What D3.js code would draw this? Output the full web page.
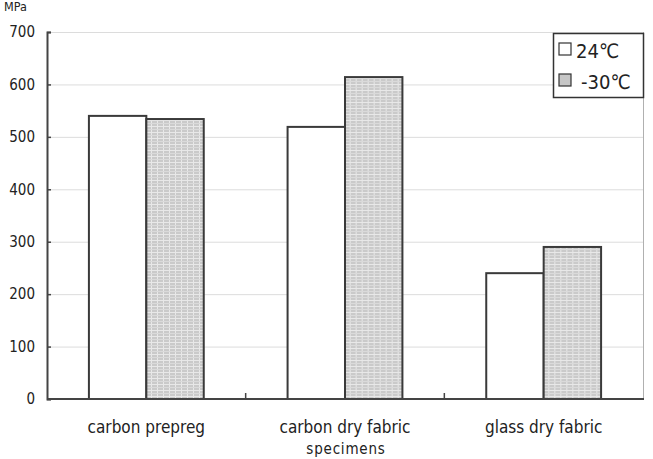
<!DOCTYPE html>
<html>
<head>
<meta charset="utf-8">
<script src="https://cdn.jsdelivr.net/npm/d3@7"></script>
<style>
    body { margin: 0; background: #fff; }
    text { font-family: "DejaVu Sans Condensed", "DejaVu Sans", sans-serif; font-stretch: condensed; fill: #222; }
</style>
</head>
<body>
<div id="chart"></div>
<script>
    'use strict';

    // chart data
    var categories = ['carbon prepreg', 'carbon dry fabric', 'glass dry fabric'];
    var seriesNames = ['24℃', '-30℃'];
    var warmValues = [540, 519, 240];
    var coldValues = [534, 614, 290];
    var yTicks = [0, 100, 200, 300, 400, 500, 600, 700];

    var width = 653, height = 459;
    var margin = {top: 32, right: 10, bottom: 60, left: 47};
    var fontFam = '"DejaVu Sans Condensed", "DejaVu Sans", sans-serif';

    var svg = d3.select('#chart')
        .append('svg')
        .attr('width', width)
        .attr('height', height);

    // hatch pattern for the -30 series
    var defs = svg.append('defs');
    var pat = defs.append('pattern')
        .attr('id', 'hatch')
        .attr('patternUnits', 'userSpaceOnUse')
        .attr('width', 6)
        .attr('height', 6);
    pat.append('rect').attr('width', 6).attr('height', 6).attr('fill', '#cacaca');
    pat.append('line').attr('x1', 0).attr('y1', 0.5).attr('x2', 6).attr('y2', 0.5)
        .attr('stroke', '#e8e8e8').attr('stroke-width', 1);
    pat.append('line').attr('x1', 2.5).attr('y1', 0).attr('x2', 2.5).attr('y2', 6)
        .attr('stroke', '#e8e8e8').attr('stroke-width', 1);
    pat.append('line').attr('x1', 0).attr('y1', 3.5).attr('x2', 6).attr('y2', 3.5)
        .attr('stroke', '#dadada').attr('stroke-width', 1);

    var x0 = width - margin.right;
    var y0 = height - margin.bottom;

    var x = d3.scaleBand()
        .domain(categories)
        .range([margin.left, x0]);

    var xInner = d3.scaleBand()
        .domain(seriesNames)
        .range([0, x.bandwidth()])
        .paddingInner(0)
        .paddingOuter(0.73);

    var y = d3.scaleLinear()
        .domain([0, 700])
        .range([y0, margin.top]);

    var g = svg.append('g');

    // gridlines
    g.selectAll('line.grid')
        .data(yTicks.slice(1))
        .enter()
        .append('line')
        .attr('class', 'grid')
        .attr('x1', margin.left)
        .attr('x2', x0)
        .attr('y1', function(d) { return y(d) + 0.5; })
        .attr('y2', function(d) { return y(d) + 0.5; })
        .attr('stroke', '#dcdcdc')
        .attr('stroke-width', 1);

    // right border
    g.append('line')
        .attr('x1', x0 + 0.5).attr('x2', x0 + 0.5)
        .attr('y1', margin.top).attr('y2', y0)
        .attr('stroke', '#b0b0b0');

    // bars
    var rows = categories.map(function(c, i) {
        return [
            {cat: c, s: seriesNames[0], v: warmValues[i]},
            {cat: c, s: seriesNames[1], v: coldValues[i]}
        ];
    });

    var groups = g.selectAll('g.cat')
        .data(rows)
        .enter()
        .append('g')
        .attr('class', 'cat')
        .attr('transform', function(d) { return 'translate(' + x(d[0].cat) + ',0)'; });

    groups.selectAll('rect')
        .data(function(d) { return d; })
        .enter()
        .append('rect')
        .attr('x', function(d) { return xInner(d.s); })
        .attr('y', function(d) { return y(d.v); })
        .attr('width', xInner.bandwidth())
        .attr('height', function(d) { return y0 - y(d.v); })
        .attr('fill', function(d, i) { return i === 0 ? '#fff' : 'url(#hatch)'; })
        .attr('stroke', '#3a3a3a')
        .attr('stroke-width', 2);

    // y axis
    var yAxis = d3.axisLeft(y)
        .tickValues(yTicks)
        .tickSize(-4)
        .tickPadding(12)
        .tickFormat(d3.format('d'));

    var ya = svg.append('g')
        .attr('transform', 'translate(' + margin.left + ',0)')
        .call(yAxis);
    ya.select('.domain').attr('stroke', '#444').attr('stroke-width', 2);
    ya.selectAll('.tick line').attr('stroke', '#444').attr('stroke-width', 1.5);
    ya.selectAll('.tick text')
        .attr('font-size', 15)
        .attr('font-family', fontFam)
        .attr('fill', '#222');

    // x axis
    var xa = svg.append('g')
        .attr('transform', 'translate(0,' + y0 + ')');
    xa.append('line')
        .attr('x1', margin.left).attr('x2', x0 + 1)
        .attr('y1', 0).attr('y2', 0)
        .attr('stroke', '#444').attr('stroke-width', 2);
    xa.selectAll('line.sep')
        .data(categories.slice(1))
        .enter()
        .append('line')
        .attr('class', 'sep')
        .attr('x1', function(d) { return x(d); })
        .attr('x2', function(d) { return x(d); })
        .attr('y1', 0).attr('y2', -6)
        .attr('stroke', '#444').attr('stroke-width', 1.5);
    xa.selectAll('text.cat')
        .data(categories)
        .enter()
        .append('text')
        .attr('class', 'cat')
        .attr('x', function(d) { return x(d) + x.bandwidth() / 2; })
        .attr('y', 34)
        .attr('text-anchor', 'middle')
        .attr('font-size', 17)
        .text(function(d) { return d; });

    svg.append('text')
        .attr('x', 346)
        .attr('y', 454)
        .attr('text-anchor', 'middle')
        .attr('font-size', 15)
        .attr('letter-spacing', 0.8)
        .attr('fill', '#333')
        .text('specimens');

    svg.append('text')
        .attr('x', 4)
        .attr('y', 11)
        .attr('font-size', 12.5)
        .text('MPa');

    // legend
    var lg = svg.append('g').attr('transform', 'translate(553,33)');
    lg.append('rect')
        .attr('x', 0.5).attr('y', 0.5)
        .attr('width', 90).attr('height', 64)
        .attr('fill', '#fff')
        .attr('stroke', '#333')
        .attr('stroke-width', 1.5);
    var items = lg.selectAll('g.item')
        .data(seriesNames)
        .enter()
        .append('g')
        .attr('class', 'item')
        .attr('transform', function(d, i) { return 'translate(0,' + (i * 31) + ')'; });
    items.append('rect')
        .attr('x', 6).attr('y', 10)
        .attr('width', 12).attr('height', 12)
        .attr('fill', function(d, i) { return i === 0 ? '#fff' : '#c6c6c6'; })
        .attr('stroke', '#333')
        .attr('stroke-width', 1.2);
    items.append('text')
        .attr('x', function(d, i) { return i === 0 ? 23 : 28; })
        .attr('y', 24.5)
        .attr('font-size', 20)
        .text(function(d) { return d; });
</script>
</body>
</html>
